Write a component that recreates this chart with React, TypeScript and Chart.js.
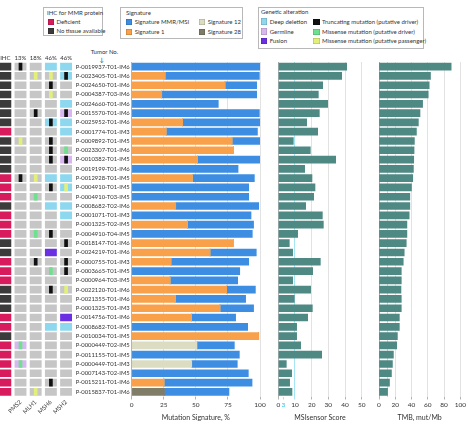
import React, { useEffect, useRef } from "react";
import { Chart, registerables } from "chart.js";
Chart.register(...registerables);

const FONT_FAMILY = "Lato, 'Open Sans', sans-serif";
const TEXT = "#333333";

const tumors = [
  "P-0019937-T01-IM6", "P-0023405-T01-IM6", "P-0024650-T01-IM6", "P-0004387-T03-IM6", "P-0024660-T01-IM6", "P-0015570-T01-IM6",
  "P-0025952-T01-IM6", "P-0001774-T01-IM3", "P-0009892-T01-IM5", "P-0023307-T01-IM6", "P-0010382-T01-IM5", "P-0019199-T01-IM6",
  "P-0012928-T01-IM5", "P-0004910-T01-IM5", "P-0004910-T03-IM5", "P-0008682-T02-IM6", "P-0001071-T01-IM3", "P-0001325-T02-IM5",
  "P-0004910-T04-IM5", "P-0018147-T01-IM6", "P-0024219-T01-IM6", "P-0000755-T01-IM3", "P-0003665-T01-IM5", "P-0000964-T03-IM5",
  "P-0022120-T01-IM6", "P-0021355-T01-IM6", "P-0001325-T01-IM3", "P-0014756-T01-IM6", "P-0008682-T01-IM5", "P-0010034-T01-IM5",
  "P-0000449-T02-IM5", "P-0011155-T01-IM5", "P-0000449-T01-IM3", "P-0007143-T02-IM5", "P-0015211-T01-IM6", "P-0015837-T01-IM6",
];

// IHC: D = deficient, N = no tissue available
const ihc = [
  "N", "N", "N", "N", "N", "N",
  "N", "D", "N", "N", "N", "N",
  "D", "D", "D", "N", "D", "D",
  "D", "N", "N", "D", "D", "D",
  "N", "N", "N", "D", "D", "N",
  "D", "D", "D", "D", "D", "D",
];

// gene cells: D deep deletion, G germline, F fusion; t truncating, m missense driver, p missense passenger
const pms2 = [
  "t", "", "", "", "", "",
  "", "", "p", "", "", "",
  "t", "", "", "", "", "",
  "", "", "", "", "", "",
  "", "", "", "", "", "",
  "Gm", "", "Gm", "", "", "",
];
const mlh1 = [
  "", "p", "", "", "", "t",
  "", "", "", "", "", "",
  "p", "", "m", "", "", "",
  "m", "", "", "t", "", "",
  "", "", "", "", "", "",
  "", "", "", "", "", "p",
];
const msh6 = [
  "D", "p", "t", "p", "", "",
  "Dt", "", "t", "t", "t", "",
  "D", "t", "", "D", "", "",
  "t", "", "F", "", "m", "",
  "t", "", "", "", "D", "",
  "", "", "", "", "t", "",
];
const msh2 = [
  "D", "Dt", "", "", "D", "Gt",
  "D", "D", "", "m", "Gt", "",
  "D", "Dp", "", "D", "D", "",
  "", "t", "", "t", "t", "",
  "p", "", "", "F", "D", "",
  "", "", "", "", "", "",
];

const topHeaders = ["IHC", "13%", "18%", "46%", "46%"];
const geneNames = ["", "PMS2", "MLH1", "MSH6", "MSH2"];

const sig1 = [
  0, 26, 72.7, 23.4, 0, 0,
  39.7, 26.8, 78.2, 79.2, 51.2, 0,
  47.3, 0, 0, 34.3, 0, 43.4,
  0, 79.2, 61, 30.6, 0, 29.9,
  74, 34, 68.8, 46.5, 0, 99,
  0, 0, 0, 0, 25.2, 0,
];
const sig12 = [
  0, 0, 0, 0, 0, 0,
  0, 0, 0, 0, 0, 0,
  0, 0, 0, 0, 0, 0,
  0, 0, 0, 0, 0, 0,
  0, 0, 0, 0, 0, 0,
  50.9, 0, 46.8, 0, 0, 0,
];
const sig28 = [
  0, 0, 0, 0, 0, 0,
  0, 0, 0, 0, 0, 0,
  0, 0, 0, 0, 0, 0,
  0, 0, 0, 0, 0, 0,
  0, 0, 0, 0, 0, 0,
  0, 0, 0, 0, 0, 25.5,
];
const sigMMR = [
  100, 73.5, 24.7, 74, 67.5, 99.5,
  60.3, 71.2, 21.8, 0, 48.8, 82.9,
  48.3, 91.2, 91.2, 64.7, 93, 51.6,
  94, 0, 36.1, 60.6, 84.2, 52.7,
  22.4, 54.8, 26.2, 34.5, 90.4, 0,
  29.1, 83.9, 35.5, 90.9, 68.6, 50.3,
];
const msiScore = [
  41, 38, 26.6, 24, 29.6, 24.6,
  17, 23.6, 9, 19.2, 34.4, 15.8,
  20.2, 22, 21.2, 16.4, 26.4, 27,
  11.6, 6.6, 8.6, 25.2, 20.6, 8.6,
  19.4, 9.6, 20.4, 17.6, 11, 11,
  13.4, 26, 4.8, 8, 6.8, 8.2,
];
const tmb = [
  88.7, 63.3, 61.7, 60.5, 53.6, 50.4,
  48.4, 46, 43.5, 43.1, 42.7, 42.3,
  41.5, 39.9, 37.9, 37.9, 37.1, 34.3,
  34.3, 33.5, 31, 29.8, 27.4, 27.4,
  27, 27.4, 27.4, 25, 25, 22.6,
  21.8, 17.7, 16.5, 15.3, 12.9, 10.5,
];
const sigTicks = [0, 25, 50, 75, 100];
const msiTicks = [0, 3, 10, 20, 30, 40, 50];
const tmbTicks = [0, 10, 20, 40, 60, 80, 100];

const C = {
  crimson: "#d81b5c",
  dark: "#3b3b3b",
  gray: "#c6c6c6",
  deep: "#8dd8ee",
  germ: "#d8b6f0",
  fusion: "#6a30e2",
  trunc: "#111111",
  misD: "#6ee08e",
  misP: "#e2f07a",
  mmr: "#3d8ee2",
  sig1: "#f9a14a",
  sig12: "#dcdcc2",
  sig28: "#7f7c68",
  teal: "#4f8984",
  cyanLine: "#a6e6f4",
  cyanText: "#33c2e0",
  grid: "#e2e2e2",
  axis: "#b3b3b3",
};

const TOP = 62;
const BOTTOM_AXIS = 29.5;
const H = 426;

function baseColor(v: string) {
  if (v.includes("D")) return C.deep;
  if (v.includes("G")) return C.germ;
  if (v.includes("F")) return C.fusion;
  return C.gray;
}
function markColor(v: string) {
  if (v.includes("t")) return C.trunc;
  if (v.includes("m")) return C.misD;
  if (v.includes("p")) return C.misP;
  return null;
}

const font = (size: number) => ({ family: FONT_FAMILY, size });

function fixH(h: number) {
  return (s: any) => {
    s.height = h;
  };
}

function gridConfig(): any {
  const half = 0.37;
  const mhalf = 0.1;
  const genes = [pms2, mlh1, msh6, msh2];
  const bases: any[] = [
    {
      data: ihc.map(() => [-half, half]),
      backgroundColor: ihc.map((v) => (v === "D" ? C.crimson : C.dark)),
    },
    ...genes.map((g, gi) => ({
      data: g.map(() => [gi + 1 - half, gi + 1 + half]),
      backgroundColor: g.map(baseColor),
    })),
  ].map((d) => ({ ...d, order: 2 }));
  const marks: any[] = genes
    .map((g, gi) => ({
      data: g.map((v) => (markColor(v) ? [gi + 1 - mhalf, gi + 1 + mhalf] : null)),
      backgroundColor: g.map((v) => markColor(v) || "rgba(0,0,0,0)"),
    }))
    .map((d) => ({ ...d, order: 1 }));
  const datasets = [...bases, ...marks];
  const setTicks = (s: any) => {
    s.ticks = [0, 1, 2, 3, 4].map((v) => ({ value: v }));
  };
  return {
    type: "bar",
    data: { labels: tumors, datasets: datasets.map((d) => ({ ...d, grouped: false, barThickness: 7, borderWidth: 0 })) },
    options: {
      indexAxis: "y",
      animation: false,
      responsive: false,
      plugins: { legend: { display: false }, tooltip: { enabled: false } },
      layout: { padding: { left: 0, right: 4, top: 0, bottom: 0 } },
      scales: {
        x: {
          type: "linear",
          position: "bottom",
          min: -0.35,
          max: 4.39,
          afterBuildTicks: setTicks,
          afterFit: fixH(BOTTOM_AXIS),
          grid: { display: false, drawTicks: false },
          border: { display: false },
          ticks: {
            autoSkip: false,
            minRotation: 45,
            maxRotation: 45,
            padding: 2,
            color: TEXT,
            font: font(6),
            callback: (v: any) => geneNames[v] ?? "",
          },
        },
        xTop: {
          type: "linear",
          position: "top",
          min: -0.35,
          max: 4.39,
          afterBuildTicks: setTicks,
          afterFit: fixH(TOP),
          grid: { display: false, drawTicks: false },
          border: { display: false },
          ticks: {
            autoSkip: false,
            minRotation: 0,
            maxRotation: 0,
            padding: 0,
            color: TEXT,
            font: font(6),
            callback: (v: any) => topHeaders[v] ?? "",
          },
        },
        y: { type: "category", display: false },
      },
    },
  };
}

function xAxis(min: number, max: number, tickVals: number[], title: string, opts: any = {}): any {
  return {
    type: "linear",
    stacked: true,
    min,
    max,
    afterBuildTicks: (s: any) => {
      s.ticks = tickVals.map((v) => ({ value: v }));
    },
    afterFit: fixH(BOTTOM_AXIS),
    grid: {
      color: (ctx: any) => (opts.gridColor ? opts.gridColor(ctx.tick?.value) : ctx.tick?.value === 0 ? C.axis : C.grid),
      tickColor: (ctx: any) => (opts.tickMark ? opts.tickMark(ctx.tick?.value) : C.axis),
      tickLength: 3,
      lineWidth: 1,
    },
    border: { display: false },
    ticks: {
      autoSkip: false,
      maxRotation: 0,
      minRotation: 0,
      padding: 2,
      font: font(6.5),
      color: (ctx: any) => (opts.tickColor ? opts.tickColor(ctx.tick?.value) : TEXT),
      callback: (v: any) => (opts.label ? opts.label(v) : String(v)),
    },
    title: {
      display: true,
      text: title,
      color: TEXT,
      font: font(7),
      padding: { top: 0, bottom: 4 },
    },
  };
}

function sigConfig(): any {
  const ds = [
    { label: "Signature 1", data: sig1, backgroundColor: C.sig1 },
    { label: "Signature 12", data: sig12, backgroundColor: C.sig12 },
    { label: "Signature 28", data: sig28, backgroundColor: C.sig28 },
    { label: "Signature MMR/MSI", data: sigMMR, backgroundColor: C.mmr },
  ];
  return {
    type: "bar",
    data: { labels: tumors, datasets: ds.map((d) => ({ ...d, barThickness: 7, borderWidth: 0 })) },
    options: {
      indexAxis: "y",
      animation: false,
      responsive: false,
      plugins: { legend: { display: false }, tooltip: { enabled: false } },
      layout: { padding: { left: 0, right: 8, top: TOP, bottom: 0 } },
      scales: {
        x: xAxis(0, 100, sigTicks, "Mutation Signature, %"),
        y: {
          stacked: true,
          afterFit: (s: any) => {
            s.width = 59.7;
          },
          grid: { display: false, drawTicks: false },
          border: { display: false },
          ticks: { autoSkip: false, padding: 2, color: TEXT, font: font(5.85) },
        },
      },
    },
  };
}

function simpleConfig(data: number[], label: string, xa: any, padL: number, padR: number): any {
  return {
    type: "bar",
    data: { labels: tumors, datasets: [{ label, data, backgroundColor: C.teal, barThickness: 7, borderWidth: 0 }] },
    options: {
      indexAxis: "y",
      animation: false,
      responsive: false,
      plugins: { legend: { display: false }, tooltip: { enabled: false } },
      layout: { padding: { left: padL, right: padR, top: TOP, bottom: 0 } },
      scales: {
        x: xa,
        y: { display: false },
      },
    },
  };
}

function msiConfig() {
  return simpleConfig(
    msiScore,
    "MSIsensor Score",
    xAxis(0, 50, msiTicks, "MSIsensor Score", {
      gridColor: (v: number) => (v === 0 ? C.axis : v === 10 ? C.cyanLine : v === 3 ? "rgba(0,0,0,0)" : C.grid),
      tickColor: (v: number) => (v === 3 ? C.cyanText : TEXT),
      tickMark: (v: number) => (v === 3 || v === 10 ? C.cyanLine : C.axis),
    }),
    10.3,
    6.3
  );
}

function tmbConfig() {
  return simpleConfig(
    tmb,
    "TMB, mut/Mb",
    xAxis(0, 100, tmbTicks, "TMB, mut/Mb", {
      gridColor: (v: number) => (v === 0 ? C.axis : v === 10 ? C.cyanLine : C.grid),
      tickMark: (v: number) => (v === 10 ? "rgba(0,0,0,0)" : C.axis),
      label: (v: number) => (v === 10 ? "" : String(v)),
    }),
    11,
    6.3
  );
}

function ChartCanvas({ left, width, make }: { left: number; width: number; make: () => any }) {
  const ref = useRef<HTMLCanvasElement>(null);
  useEffect(() => {
    const chart = new Chart(ref.current as HTMLCanvasElement, make());
    return () => chart.destroy();
  }, []);
  return (
    <canvas
      ref={ref}
      width={width}
      height={H}
      style={{ position: "absolute", left, top: 0, width, height: H }}
    />
  );
}

const txt: React.CSSProperties = {
  position: "absolute",
  fontFamily: FONT_FAMILY,
  fontSize: 6,
  color: TEXT,
  whiteSpace: "nowrap",
  lineHeight: "8px",
};

function Swatch({ x, y, color }: { x: number; y: number; color: string }) {
  return (
    <div
      style={{
        position: "absolute",
        left: x,
        top: y,
        width: 6.3,
        height: 6.3,
        background: color,
        boxShadow: "inset 0 0 0 0.5px rgba(0,0,0,0.25)",
      }}
    />
  );
}

function Item({ x, y, color, label }: { x: number; y: number; color: string; label: string }) {
  return (
    <>
      <Swatch x={x} y={y - 3.2} color={color} />
      <div style={{ ...txt, left: x + 8.7, top: y - 4 }}>{label}</div>
    </>
  );
}

function Box({ x, y, w, h }: { x: number; y: number; w: number; h: number }) {
  return (
    <div
      style={{
        position: "absolute",
        left: x,
        top: y,
        width: w,
        height: h,
        border: "1px solid #b8b8b8",
        boxSizing: "border-box",
        background: "#fff",
      }}
    />
  );
}

export default function App() {
  return (
    <div style={{ position: "fixed", left: 0, top: 0, width: 468, height: 426, background: "#fff", overflow: "hidden" }}>
      <Box x={42.7} y={6.7} w={60.6} h={29.5} />
      <div style={{ ...txt, left: 47, top: 8.7 }}>IHC for MMR protein</div>
      <Item x={47.7} y={22.3} color={C.crimson} label="Deficient" />
      <Item x={47.7} y={31.3} color={C.dark} label="No tissue available" />

      <Box x={120} y={6.7} w={122.7} h={32} />
      <div style={{ ...txt, left: 126, top: 8.7 }}>Signature</div>
      <Item x={126} y={21.7} color={C.mmr} label="Signature MMR/MSI" />
      <Item x={126} y={31.7} color={C.sig1} label="Signature 1" />
      <Item x={199} y={21.7} color={C.sig12} label="Signature 12" />
      <Item x={199} y={31.7} color={C.sig28} label="Signature 28" />

      <Box x={258.3} y={6.7} w={165.7} h={42.6} />
      <div style={{ ...txt, left: 261, top: 8.2 }}>Genetic alteration</div>
      <Item x={261} y={21.5} color={C.deep} label="Deep deletion" />
      <Item x={261} y={31.5} color={C.germ} label="Germline" />
      <Item x={261} y={41.3} color={C.fusion} label="Fusion" />
      <Item x={313.3} y={21.7} color={C.trunc} label="Truncating mutation (putative driver)" />
      <Item x={313.3} y={31.7} color={C.misD} label="Missense mutation (putative driver)" />
      <Item x={313.3} y={41.3} color={C.misP} label="Missense mutation (putative passenger)" />

      <div style={{ ...txt, left: 90.7, top: 47.5 }}>Tumor No.</div>
      <div style={{ ...txt, left: 99.5, top: 55.5, fontSize: 6 }}>↓</div>

      <ChartCanvas left={0} width={76} make={gridConfig} />
      <ChartCanvas left={72} width={196} make={sigConfig} />
      <ChartCanvas left={268} width={100} make={msiConfig} />
      <ChartCanvas left={368} width={100} make={tmbConfig} />
    </div>
  );
}
